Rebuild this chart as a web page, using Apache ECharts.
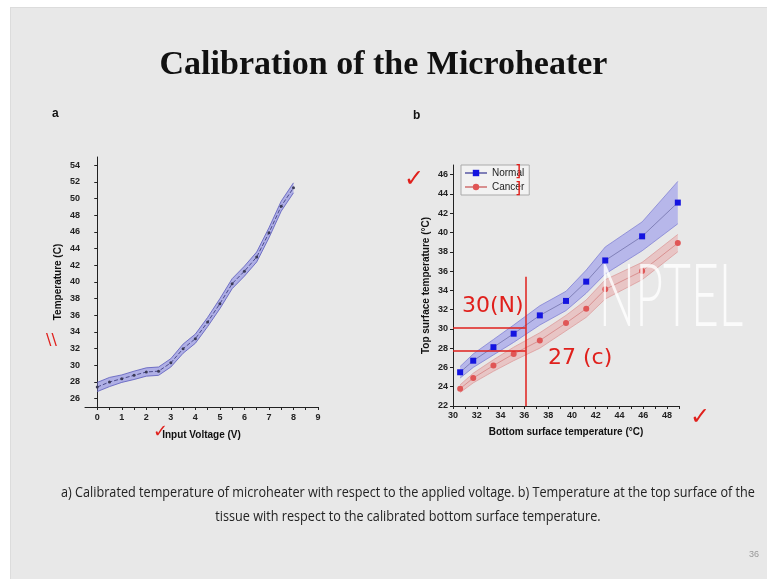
<!DOCTYPE html>
<html>
<head>
<meta charset="utf-8">
<script src="https://cdn.jsdelivr.net/npm/echarts@6/dist/echarts.min.js"></script>
<style>
  body { margin: 0; background: #fff; }
  #wrap { position: relative; width: 767px; height: 579px; overflow: hidden; background: #fff; }
  #slide { position: absolute; left: 10px; top: 7px; width: 757px; height: 571px; background: #e8e8e8;
           border-left: 1px solid #dcdcdc; border-top: 1px solid #dcdcdc; }
  #chart { position: absolute; left: 0; top: 0; width: 767px; height: 579px; }
</style>
</head>
<body>
<div id="wrap">
  <div id="slide"></div>
  <div id="chart"></div>
</div>
<script>
// panel a: microheater calibration
const voltage = [0, 0.5, 1, 1.5, 2, 2.5, 3, 3.5, 4, 4.5, 5, 5.5, 6, 6.5, 7, 7.5, 8]
const heaterTemp = [27.4, 28.0, 28.4, 28.8, 29.2, 29.3, 30.3, 32.0, 33.2, 35.2, 37.4, 39.8, 41.3, 43.0, 45.9, 49.1, 51.3]
const heaterErr = [0.55, 0.55, 0.45, 0.5, 0.5, 0.5, 0.5, 0.55, 0.55, 0.55, 0.6, 0.6, 0.6, 0.6, 0.6, 0.6, 0.6]
const aXLabels = [0, 1, 2, 3, 4, 5, 6, 7, 8, 9]
const aXTicks = [0, 0.5, 1, 1.5, 2, 2.5, 3, 3.5, 4, 4.5, 5, 5.5, 6, 6.5, 7, 7.5, 8, 8.5, 9]
const aYLabels = [26, 28, 30, 32, 34, 36, 38, 40, 42, 44, 46, 48, 50, 52, 54]

// panel b: top vs bottom surface temperature
const bottomTemp = [30.6, 31.7, 33.4, 35.1, 37.3, 39.5, 41.2, 42.8, 45.9, 48.9]
const normalTop = [25.5, 26.7, 28.1, 29.5, 31.4, 32.9, 34.9, 37.1, 39.6, 43.1]
const normalErr = [0.6, 0.7, 0.8, 0.9, 1.0, 1.0, 1.2, 1.4, 1.5, 2.2]
const cancerTop = [23.8, 24.9, 26.2, 27.4, 28.8, 30.6, 32.1, 34.1, 36.0, 38.9]
const cancerErr = [0.4, 0.5, 0.6, 0.7, 0.8, 0.8, 0.9, 1.0, 0.9, 0.9]
const bXLabels = [30, 32, 34, 36, 38, 40, 42, 44, 46, 48]
const bXTicks = [30, 31, 32, 33, 34, 35, 36, 37, 38, 39, 40, 41, 42, 43, 44, 45, 46, 47, 48, 49]
const bYLabels = [22, 24, 26, 28, 30, 32, 34, 36, 38, 40, 42, 44, 46]

// hand-drawn reading lines on panel b
const readX = 36.1
const readNormal = 30.15
const readCancer = 27.7
const readTop = 35.4

const axisFont = { fontFamily: 'Liberation Sans, Arial', fontWeight: 'bold', fontSize: 9, color: '#222' }
const nameFont = { fontFamily: 'Liberation Sans, Arial', fontWeight: 'bold', fontSize: 10, color: '#111' }
const black = { lineStyle: { color: '#222', width: 1 } }

function valueAxis (opts) {
  return Object.assign({
    type: 'value',
    axisLine: { show: true, ...black },
    splitLine: { show: false },
    nameLocation: 'middle',
    nameTextStyle: nameFont
  }, opts)
}

// shaded error band: one filled polygon + edge lines
function band (name, idx, xs, ys, es, fill, edge) {
  const rows = xs.map((x, i) => [x, ys[i] - es[i], ys[i] + es[i]])
  const edgeLine = (k) => ({
    name: name + (k === 1 ? '-low' : '-high'),
    type: 'line',
    xAxisIndex: idx,
    yAxisIndex: idx,
    symbol: 'none',
    silent: true,
    lineStyle: { color: edge, width: 1 },
    data: rows.map(r => [r[0], r[k]]),
    z: 2
  })
  return [
    {
      name: name + '-band',
      type: 'custom',
      xAxisIndex: idx,
      yAxisIndex: idx,
      silent: true,
      data: rows,
      z: 1,
      renderItem (params, api) {
        if (params.dataIndex !== 0) return null
        const lower = rows.map(r => api.coord([r[0], r[1]]))
        const upper = rows.map(r => api.coord([r[0], r[2]])).reverse()
        return {
          type: 'polygon',
          shape: { points: lower.concat(upper) },
          style: { fill: fill, stroke: null }
        }
      }
    },
    edgeLine(1),
    edgeLine(2)
  ]
}

const chart = echarts.init(document.getElementById('chart'))
const red = '#e0201c'

chart.setOption({
  animation: false,
  title: {
    text: 'Calibration of the Microheater',
    left: 'center',
    top: 43,
    textStyle: { fontFamily: 'Liberation Serif, Times New Roman', fontWeight: 'bold', fontSize: 34, color: '#111' }
  },
  legend: {
    data: ['Normal', 'Cancer'],
    orient: 'vertical',
    left: 461,
    top: 165,
    itemWidth: 22,
    itemHeight: 8,
    itemGap: 4,
    padding: [3, 5, 3, 3],
    borderColor: '#aaa',
    borderWidth: 1,
    backgroundColor: '#f2f2f2',
    textStyle: { fontFamily: 'Liberation Sans, Arial', fontSize: 10, color: '#222' }
  },
  grid: [
    { left: 85, right: 449, top: 157, bottom: 172 },
    { left: 453, right: 88, top: 165, bottom: 173 }
  ],
  xAxis: [
    valueAxis({
      gridIndex: 0, min: -0.5, max: 9,
      name: 'Input Voltage (V)', nameGap: 23,
      axisTick: { show: true, length: 3, customValues: aXTicks, ...black },
      axisLabel: { ...axisFont, margin: 6, customValues: aXLabels }
    }),
    valueAxis({
      gridIndex: 1, min: 30, max: 49,
      name: 'Bottom surface temperature (°C)', nameGap: 21,
      axisTick: { show: true, length: 3, customValues: bXTicks, ...black },
      axisLabel: { ...axisFont, margin: 5, customValues: bXLabels }
    })
  ],
  yAxis: [
    valueAxis({
      gridIndex: 0, min: 25, max: 55,
      name: 'Temperature (C)', nameGap: 22,
      axisTick: { show: true, length: 3, customValues: aYLabels, ...black },
      axisLabel: { ...axisFont, margin: 5, customValues: aYLabels }
    }),
    valueAxis({
      gridIndex: 1, min: 22, max: 47,
      name: 'Top surface temperature (°C)', nameGap: 22,
      axisTick: { show: true, length: 3, customValues: bYLabels, ...black },
      axisLabel: { ...axisFont, margin: 5, customValues: bYLabels }
    })
  ],
  series: [
    ...band('heater', 0, voltage, heaterTemp, heaterErr, 'rgba(128,128,225,0.55)', 'rgba(95,95,190,0.85)'),
    {
      name: 'Temperature',
      type: 'line',
      xAxisIndex: 0,
      yAxisIndex: 0,
      symbol: 'circle',
      symbolSize: 3,
      itemStyle: { color: '#3a3a55' },
      lineStyle: { color: '#4a4a8a', width: 1, type: 'dashed' },
      data: voltage.map((x, i) => [x, heaterTemp[i]]),
      z: 3
    },
    ...band('normal', 1, bottomTemp, normalTop, normalErr, 'rgba(115,115,235,0.42)', 'rgba(120,120,210,0.7)'),
    ...band('cancer', 1, bottomTemp, cancerTop, cancerErr, 'rgba(232,140,140,0.38)', 'rgba(220,150,150,0.7)'),
    {
      name: 'Normal',
      type: 'line',
      xAxisIndex: 1,
      yAxisIndex: 1,
      symbol: 'rect',
      symbolSize: 6,
      itemStyle: { color: '#1414e0' },
      lineStyle: { color: '#8080b8', width: 1 },
      data: bottomTemp.map((x, i) => [x, normalTop[i]]),
      z: 3
    },
    {
      name: 'Cancer',
      type: 'line',
      xAxisIndex: 1,
      yAxisIndex: 1,
      symbol: 'circle',
      symbolSize: 6,
      itemStyle: { color: '#e05656' },
      lineStyle: { color: '#d89090', width: 1 },
      data: bottomTemp.map((x, i) => [x, cancerTop[i]]),
      z: 3,
      markLine: {
        silent: true,
        symbol: 'none',
        label: { show: false },
        lineStyle: { color: red, width: 1.5, type: 'solid' },
        data: [
          [{ coord: [30, readNormal] }, { coord: [readX, readNormal] }],
          [{ coord: [30, readCancer] }, { coord: [readX, readCancer] }],
          [{ coord: [readX, 22] }, { coord: [readX, readTop] }]
        ]
      }
    }
  ],
  graphic: [
    { type: 'text', left: 52, top: 108, style: { text: 'a', font: 'bold 12px Liberation Sans, Arial', fill: '#111' } },
    { type: 'text', left: 413, top: 110, style: { text: 'b', font: 'bold 12px Liberation Sans, Arial', fill: '#111' } },
    {
      type: 'text', x: 671, y: 298, z: 100, scaleX: 0.56,
      style: { text: 'NPTEL', font: '300 86px Lato, DejaVu Sans', fill: 'rgba(255,255,255,0.8)', align: 'center', verticalAlign: 'middle' }
    },
    {
      type: 'text', x: 408, y: 481, z: 100, scaleX: 0.843,
      style: {
        text: 'a) Calibrated temperature of microheater with respect to the applied voltage. b) Temperature at the top surface of the\ntissue with respect to the calibrated bottom surface temperature.',
        font: '15px Open Sans, Liberation Sans', fill: '#222', align: 'center', lineHeight: 24
      }
    },
    { type: 'text', x: 754, y: 555, style: { text: '36', font: '9px Liberation Sans, Arial', fill: '#999', align: 'center', verticalAlign: 'middle' } },
    // handwriting in red
    { type: 'text', x: 462, y: 306, z: 100, style: { text: '30(N)', font: '22px DejaVu Sans', fill: red, verticalAlign: 'middle' } },
    { type: 'text', x: 548, y: 358, z: 100, style: { text: '27 (c)', font: '22px DejaVu Sans', fill: red, verticalAlign: 'middle' } },
    { type: 'text', x: 404, y: 180, z: 100, style: { text: '✓', font: '24px DejaVu Sans', fill: red, verticalAlign: 'middle' } },
    { type: 'text', x: 690, y: 418, z: 100, style: { text: '✓', font: '24px DejaVu Sans', fill: red, verticalAlign: 'middle' } },
    { type: 'text', x: 153, y: 432, z: 100, style: { text: '✓', font: '18px DejaVu Sans', fill: red, verticalAlign: 'middle' } },
    { type: 'text', x: 46, y: 341, z: 100, style: { text: '\\\\', font: '16px DejaVu Sans', fill: red, verticalAlign: 'middle' } },
    { type: 'text', x: 515, y: 172, z: 100, style: { text: ']', font: '16px DejaVu Sans', fill: red, verticalAlign: 'middle' } },
    { type: 'text', x: 515, y: 189, z: 100, style: { text: ']', font: '16px DejaVu Sans', fill: red, verticalAlign: 'middle' } }
  ]
})
</script>
</body>
</html>
